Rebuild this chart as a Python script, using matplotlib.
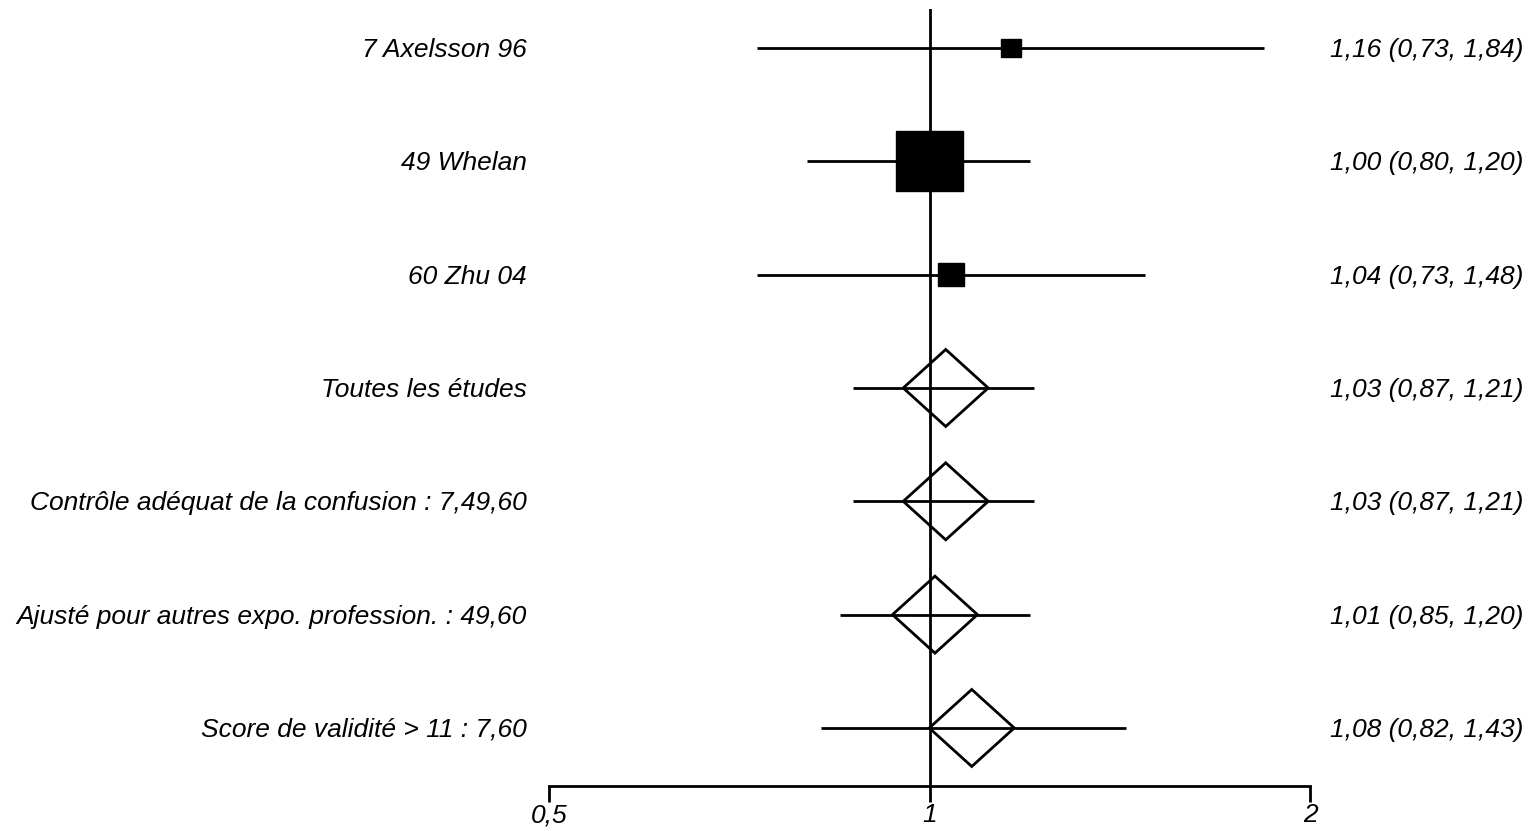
import matplotlib.pyplot as plt
from matplotlib.patches import Polygon, Rectangle
import numpy as np

plt.rcParams['font.family'] = ['Liberation Sans', 'DejaVu Sans']

labels = ['7 Axelsson 96', '49 Whelan', '60 Zhu 04', 'Toutes les études',
          'Contrôle adéquat de la confusion : 7,49,60',
          'Ajusté pour autres expo. profession. : 49,60',
          'Score de validité > 11 : 7,60']
est = [1.16, 1.00, 1.04, 1.03, 1.03, 1.01, 1.08]
lo = [0.73, 0.80, 0.73, 0.87, 0.87, 0.85, 0.82]
hi = [1.84, 1.20, 1.48, 1.21, 1.21, 1.20, 1.43]
# study weights (%), only for the three individual studies
weights = [7.4, 80.9, 11.7]
pooled = [False, False, False, True, True, True, True]
xticks = [0.5, 1, 2]
xticklabels = ['0,5', '1', '2']

fig = plt.figure(figsize=(15.28, 8.31), dpi=100)
W, H = 1528, 831
ax = fig.add_axes([549 / W, 1 - 786 / H, (1310 - 549) / W, (786 - 9) / H])
ax.set_xscale('log', base=2)
ax.set_xlim(0.5, 2)
ax.set_ylim(6.512, -0.344)

lw = 2.0
px_per_log2 = (1310 - 549) / 2.0
px_per_row = 113.33

ax.axvline(1, color='black', lw=lw, zorder=1)

for i in range(len(labels)):
    ax.plot([lo[i], hi[i]], [i, i], color='black', lw=lw, solid_capstyle='butt', zorder=2)
    if pooled[i]:
        hw = 42.5 / px_per_log2
        hh = 38.5 / px_per_row
        pts = [(est[i] * 2 ** -hw, i), (est[i], i - hh), (est[i] * 2 ** hw, i), (est[i], i + hh)]
        ax.add_patch(Polygon(pts, closed=True, fill=False, edgecolor='black', lw=lw, zorder=3))
    else:
        side = 7.5 * np.sqrt(weights[i])
        hw = side / 2 / px_per_log2
        hh = side / 2 / 1.12 / px_per_row
        ax.add_patch(Rectangle((est[i] * 2 ** -hw, i - hh), est[i] * 2 ** hw - est[i] * 2 ** -hw, 2 * hh,
                               facecolor='black', edgecolor='black', lw=1, zorder=3))
    ybase = 1 - (48 + px_per_row * i + 9) / H
    ax.text(527 / W, ybase, labels[i], transform=fig.transFigure,
            ha='right', va='baseline', fontsize=19, style='italic')
    txt = '%.2f (%.2f, %.2f)' % (est[i], lo[i], hi[i])
    ax.text(1523 / W, ybase, txt.replace('.', ','), transform=fig.transFigure,
            ha='right', va='baseline', fontsize=19, style='italic')

for s in ['top', 'left', 'right']:
    ax.spines[s].set_visible(False)
ax.spines['bottom'].set_linewidth(lw)
ax.set_yticks([])
ax.set_xticks(xticks)
ax.set_xticklabels(xticklabels, fontsize=19, style='italic')
ax.minorticks_off()
ax.tick_params(axis='x', direction='out', length=11.5, width=lw, pad=1)

fig.savefig('out.png', dpi=100)
